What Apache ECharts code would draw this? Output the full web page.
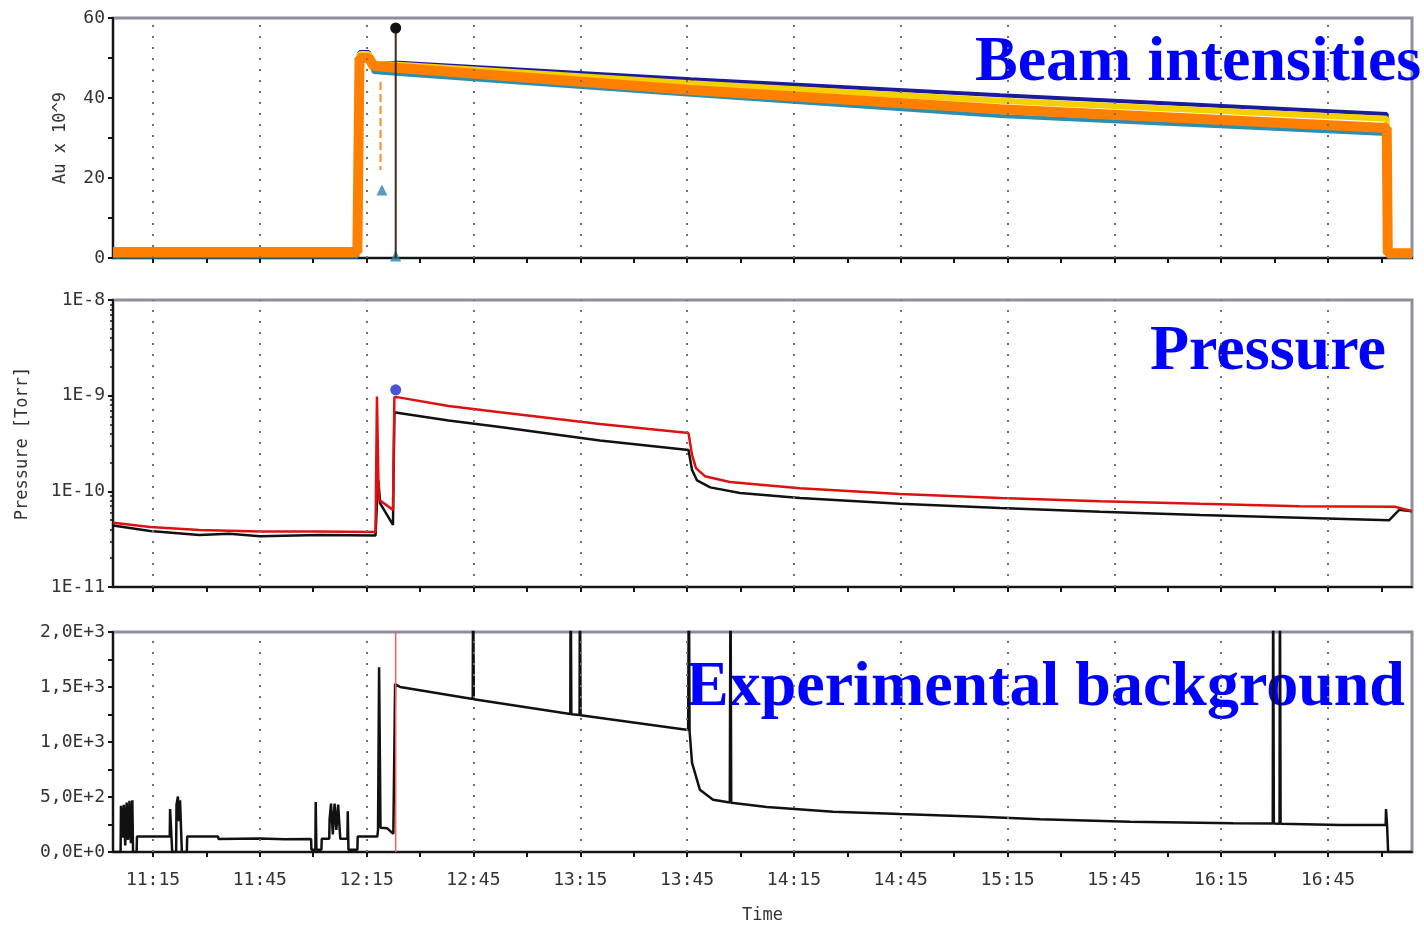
<!DOCTYPE html>
<html>
<head>
<meta charset="utf-8">
<title>Beam intensities / Pressure / Experimental background</title>
<script src="https://cdn.jsdelivr.net/npm/echarts@6.0.0/dist/echarts.min.js"></script>
<style>
    html, body { margin: 0; padding: 0; background: #ffffff; }
    #chart { width: 1424px; height: 925px; }
</style>
</head>
<body>
<div id="chart"></div>
<script>

/* time axis : ticks every 15 min, labels + grid every 30 min */
var xStart = '11:03:46';
var xEnd = '17:08:36';
var tickTimes = ['11:15', '11:30', '11:45', '12:00', '12:15', '12:30', '12:45', '13:00', '13:15', '13:30', '13:45', '14:00',
    '14:15', '14:30', '14:45', '15:00', '15:15', '15:30', '15:45', '16:00', '16:15', '16:30', '16:45', '17:00'];
var labelTimes = ['11:15', '11:45', '12:15', '12:45', '13:15', '13:45', '14:15', '14:45', '15:15', '15:45', '16:15', '16:45'];
var cursorTime = '12:23:10';

/* beam intensities, Au x 10^9 */
var beamTime = ['11:03:48', '12:12:24', '12:13:00', '12:15:36', '12:17:00', '12:24:00', '13:46:00', '15:13:00', '17:01:30', '17:01:48', '17:08:36'];
var beamNavy = [1.2, 1.2, 51.5, 51.5, 48.5, 48.8, 44.7, 40.7, 36.0, 0.5, 0.5];
var beamTeal = [0.4, 0.4, 50.0, 50.0, 46.5, 46.0, 40.8, 35.5, 31.0, 0.3, 0.3];
var beamGreen = [1.0, 1.0, 50.5, 50.5, 47.5, 47.0, 41.5, 36.6, 32.5, 0.6, 0.6];
var beamYellow = [1.8, 1.8, 51.0, 51.0, 48.5, 48.3, 43.7, 39.3, 34.8, 0.8, 0.8];
var beamOrange = [1.5, 1.5, 50.0, 50.0, 48.0, 47.5, 42.0, 37.2, 32.5, 1.2, 1.2];
var cursorBeam = [57.5, 0];
var transientTime = '12:18:54';
var transientBeam = [44, 22];
var triangleTime = ['12:19:18', '12:23:10'];
var triangleBeam = [17, 0.5];

/* pressure [Torr] */
var redTime = ['11:03:48', '11:14:12', '11:28:00', '11:45:00', '12:01:00', '12:17:30', '12:17:54', '12:18:24', '12:22:24', '12:22:48',
    '12:24:00', '12:38:00', '12:52:30', '13:20:30', '13:45:24', '13:46:24', '13:47:30', '13:50:00', '13:57:00', '14:16:42',
    '14:44:48', '15:12:54', '15:41:00', '16:09:00', '16:37:00', '17:03:48', '17:08:36'];
var redPressure = [4.7e-11, 4.25e-11, 3.95e-11, 3.8e-11, 3.8e-11, 3.75e-11, 9.8e-10, 8.2e-11, 6.4e-11, 9.7e-10,
    9.6e-10, 7.8e-10, 6.7e-10, 5.05e-10, 4.06e-10, 2.4e-10, 1.75e-10, 1.44e-10, 1.25e-10, 1.08e-10,
    9.4e-11, 8.5e-11, 7.9e-11, 7.4e-11, 7.0e-11, 6.9e-11, 6.2e-11];
var blackTime = ['11:03:48', '11:14:12', '11:28:00', '11:36:24', '11:45:06', '12:01:54', '12:17:30', '12:17:54', '12:18:18', '12:18:48',
    '12:22:24', '12:22:48', '12:24:00', '12:38:00', '12:52:30', '13:20:30', '13:45:24', '13:46:24', '13:47:48', '13:51:30',
    '13:59:54', '14:16:42', '14:44:48', '15:12:54', '15:41:00', '16:09:00', '16:37:00', '17:02:12', '17:05:00', '17:08:36'];
var blackPressure = [4.4e-11, 3.85e-11, 3.5e-11, 3.6e-11, 3.4e-11, 3.5e-11, 3.45e-11, 7.5e-11, 1.3e-10, 7.5e-11,
    4.45e-11, 6.7e-10, 6.6e-10, 5.5e-10, 4.7e-10, 3.4e-10, 2.7e-10, 1.67e-10, 1.3e-10, 1.1e-10,
    9.6e-11, 8.5e-11, 7.4e-11, 6.7e-11, 6.1e-11, 5.66e-11, 5.3e-11, 5.0e-11, 6.4e-11, 6.2e-11];
var cursorPressure = 1.15e-9;

/* experimental background */
var bgTime = ['11:03:48', '11:05:54', '11:06:00', '11:06:24', '11:06:48', '11:07:12', '11:07:36', '11:08:00', '11:08:24', '11:08:48',
    '11:09:12', '11:09:24', '11:10:24', '11:10:30', '11:19:42', '11:19:48', '11:20:18', '11:20:24', '11:21:30', '11:21:36',
    '11:22:00', '11:22:18', '11:22:36', '11:23:00', '11:23:06', '11:24:30', '11:24:36', '11:33:18', '11:33:24', '11:45:00',
    '11:52:00', '11:59:24', '11:59:30', '12:00:36', '12:00:42', '12:00:54', '12:02:18', '12:02:24', '12:04:30', '12:04:36',
    '12:05:00', '12:05:30', '12:06:00', '12:06:30', '12:07:00', '12:07:36', '12:09:36', '12:09:42', '12:09:54', '12:12:24',
    '12:12:30', '12:18:00', '12:18:12', '12:18:30', '12:18:54', '12:20:48', '12:22:30', '12:23:00', '12:24:24', '12:44:48',
    '12:44:54', '12:45:06', '13:12:12', '13:12:18', '13:12:30', '13:14:48', '13:14:54', '13:15:06', '13:45:18', '13:45:30',
    '13:45:42', '13:46:24', '13:48:36', '13:52:18', '13:57:00', '13:57:12', '13:57:24', '14:07:24', '14:26:00', '14:44:48',
    '15:07:18', '15:24:06', '15:49:24', '16:18:18', '16:29:30', '16:29:36', '16:29:48', '16:31:24', '16:31:30', '16:31:42',
    '16:48:24', '17:01:12', '17:01:18', '17:01:36', '17:01:54', '17:08:36'];
var bgCounts = [0, 0, 420, 130, 430, 60, 450, 110, 465, 80,
    470, 0, 0, 140, 140, 390, 390, 0, 0, 430,
    505, 280, 470, 470, 0, 0, 140, 140, 118, 122,
    115, 118, 20, 20, 455, 20, 20, 120, 120, 300,
    440, 160, 440, 200, 430, 120, 120, 370, 20, 20,
    140, 140, 200, 1680, 220, 215, 165, 1527, 1500, 1390,
    2600, 1388, 1255, 2600, 1252, 1245, 2600, 1243, 1110, 2600,
    1100, 810, 565, 475, 450, 2600, 448, 410, 367, 345,
    320, 297, 276, 261, 258, 2600, 258, 257, 2600, 257,
    245, 245, 390, 240, 0, 0];


function toMinutes(s) {
    var p = s.split(':');
    return Number(p[0]) * 60 + Number(p[1]) + (p.length > 2 ? Number(p[2]) / 60 : 0);
}

function pad(n) {
    return n < 10 ? '0' + n : '' + n;
}

function minutesToLabel(m) {
    var r = Math.round(m);
    return Math.floor(r / 60) + ':' + pad(r % 60);
}

function toPairs(times, values) {
    var out = [];
    for (var i = 0; i < times.length; i++) {
        out.push([toMinutes(times[i]), values[i]]);
    }
    return out;
}

function sameTime(t, values) {
    var out = [];
    for (var i = 0; i < values.length; i++) {
        out.push([toMinutes(t), values[i]]);
    }
    return out;
}

var tickMinutes = tickTimes.map(toMinutes);
var labelMinutes = labelTimes.map(toMinutes);

var textFont = 'DejaVu Sans Mono';
var axisColor = '#151515';

function makeXAxis(gridIndex, withLabels) {
    return {
        type: 'value',
        gridIndex: gridIndex,
        min: toMinutes(xStart),
        max: toMinutes(xEnd),
        name: withLabels ? 'Time' : '',
        nameLocation: 'middle',
        nameGap: 55,
        nameTextStyle: {fontFamily: textFont, fontSize: 17, color: '#333'},
        axisLine: {show: true, onZero: false, lineStyle: {color: axisColor, width: 2}},
        axisTick: {show: true, customValues: tickMinutes, length: 5, lineStyle: {color: axisColor, width: 2}},
        axisLabel: {
            show: withLabels,
            customValues: labelMinutes,
            margin: 19,
            fontFamily: textFont,
            fontSize: 18,
            color: '#333',
            formatter: function (v) { return minutesToLabel(v); }
        },
        splitLine: {show: false}
    };
}

/* vertical dotted grid lines every 30 min */
function gridMarkLine() {
    var lines = [];
    for (var i = 0; i < labelMinutes.length; i++) {
        lines.push({xAxis: labelMinutes[i]});
    }
    return {
        silent: true,
        symbol: ['none', 'none'],
        label: {show: false},
        lineStyle: {color: '#707070', width: 2, type: [2, 9]},
        emphasis: {disabled: true},
        data: lines
    };
}

function beamLine(name, values, color, width) {
    return {
        name: name,
        type: 'line',
        xAxisIndex: 0,
        yAxisIndex: 0,
        showSymbol: false,
        data: toPairs(beamTime, values),
        lineStyle: {color: color, width: width},
        itemStyle: {color: color}
    };
}

function bigTitle(text, x, y) {
    return {
        type: 'text', x: x, y: y,
        style: {
            text: text, fill: '#0000ff', fontFamily: 'Liberation Serif', fontWeight: 'bold',
            fontSize: 64, align: 'left', verticalAlign: 'middle'
        }
    };
}

var gridBase = {left: 113, right: 12, show: true, borderColor: '#8e8e9c', borderWidth: 3};

var chart = echarts.init(document.getElementById('chart'));

var navySeries = beamLine('Beam 1', beamNavy, '#1b1b9e', 4);
navySeries.markLine = gridMarkLine();

var option = {
    animation: false,
    grid: [
        Object.assign({top: 18, height: 240}, gridBase),
        Object.assign({top: 300, height: 287}, gridBase),
        Object.assign({top: 632, height: 220}, gridBase)
    ],
    xAxis: [makeXAxis(0, false), makeXAxis(1, false), makeXAxis(2, true)],
    yAxis: [
        {
            type: 'value',
            gridIndex: 0,
            min: 0,
            max: 60,
            interval: 20,
            name: 'Au x 10^9',
            nameLocation: 'middle',
            nameGap: 44,
            nameTextStyle: {fontFamily: textFont, fontSize: 17, color: '#333'},
            axisLine: {show: true, lineStyle: {color: axisColor, width: 2}},
            axisTick: {show: true, length: 5, lineStyle: {color: axisColor, width: 2}},
            minorTick: {show: true, splitNumber: 2, length: 5, lineStyle: {color: axisColor, width: 2}},
            axisLabel: {margin: 8, fontFamily: textFont, fontSize: 18, color: '#333'},
            splitLine: {show: false}
        },
        {
            type: 'log',
            gridIndex: 1,
            logBase: 10,
            min: 1e-11,
            max: 1e-8,
            name: 'Pressure [Torr]',
            nameLocation: 'middle',
            nameGap: 82,
            nameTextStyle: {fontFamily: textFont, fontSize: 17, color: '#333'},
            axisLine: {show: true, lineStyle: {color: axisColor, width: 2}},
            axisTick: {show: true, length: 5, lineStyle: {color: axisColor, width: 2}},
            minorTick: {show: true, splitNumber: 9, length: 3, lineStyle: {color: axisColor, width: 1.5}},
            axisLabel: {
                margin: 8, fontFamily: textFont, fontSize: 18, color: '#333',
                formatter: function (v) { return '1E' + Math.round(Math.log10(v)); }
            },
            splitLine: {show: false}
        },
        {
            type: 'value',
            gridIndex: 2,
            min: 0,
            max: 2000,
            interval: 500,
            axisLine: {show: true, lineStyle: {color: axisColor, width: 2}},
            axisTick: {show: true, length: 5, lineStyle: {color: axisColor, width: 2}},
            minorTick: {show: true, splitNumber: 2, length: 5, lineStyle: {color: axisColor, width: 2}},
            axisLabel: {
                margin: 8, fontFamily: textFont, fontSize: 18, color: '#333',
                formatter: function (v) { return v.toExponential(1).replace('.', ',').replace('e', 'E'); }
            },
            splitLine: {show: false}
        }
    ],
    graphic: [
        bigTitle('Beam intensities', 975, 63),
        bigTitle('Pressure', 1150, 352),
        bigTitle('Experimental background', 686, 688)
    ],
    series: [
        navySeries,
        beamLine('Beam 2', beamTeal, '#2a8fb0', 4),
        beamLine('Beam 3', beamGreen, '#3c8c3c', 4),
        beamLine('Beam 4', beamYellow, '#f5d000', 6),
        beamLine('Beam 5', beamOrange, '#ff7f00', 10),
        {
            name: 'transient',
            type: 'line',
            xAxisIndex: 0,
            yAxisIndex: 0,
            showSymbol: false,
            data: sameTime(transientTime, transientBeam),
            lineStyle: {color: '#ff8a20', width: 2, type: 'dashed'}
        },
        {
            name: 'cursor',
            type: 'line',
            xAxisIndex: 0,
            yAxisIndex: 0,
            symbol: 'circle',
            symbolSize: function (val, params) { return params.dataIndex === 0 ? 11 : 0; },
            data: sameTime(cursorTime, cursorBeam),
            lineStyle: {color: '#3a2a1a', width: 2},
            itemStyle: {color: '#111'}
        },
        {
            name: 'markers',
            type: 'scatter',
            xAxisIndex: 0,
            yAxisIndex: 0,
            symbol: 'triangle',
            symbolSize: 11,
            data: toPairs(triangleTime, triangleBeam),
            itemStyle: {color: '#2a84a8'}
        },
        {
            name: 'Pressure 2',
            type: 'line',
            xAxisIndex: 1,
            yAxisIndex: 1,
            showSymbol: false,
            data: toPairs(blackTime, blackPressure),
            lineStyle: {color: '#111', width: 2.5},
            markLine: gridMarkLine()
        },
        {
            name: 'Pressure 1',
            type: 'line',
            xAxisIndex: 1,
            yAxisIndex: 1,
            showSymbol: false,
            data: toPairs(redTime, redPressure),
            lineStyle: {color: '#e01010', width: 2.5}
        },
        {
            name: 'cursor p',
            type: 'scatter',
            xAxisIndex: 1,
            yAxisIndex: 1,
            symbolSize: 11,
            data: [[toMinutes(cursorTime), cursorPressure]],
            itemStyle: {color: '#1a28d0'}
        },
        {
            name: 'Background',
            type: 'line',
            xAxisIndex: 2,
            yAxisIndex: 2,
            showSymbol: false,
            data: toPairs(bgTime, bgCounts),
            lineStyle: {color: '#111', width: 2.5},
            markLine: gridMarkLine()
        },
        {
            name: 'cursor bg',
            type: 'line',
            xAxisIndex: 2,
            yAxisIndex: 2,
            showSymbol: false,
            data: sameTime(cursorTime, [0, 2000]),
            lineStyle: {color: '#ff6060', width: 1.5}
        }
    ]
};

chart.setOption(option);

</script>
</body>
</html>
